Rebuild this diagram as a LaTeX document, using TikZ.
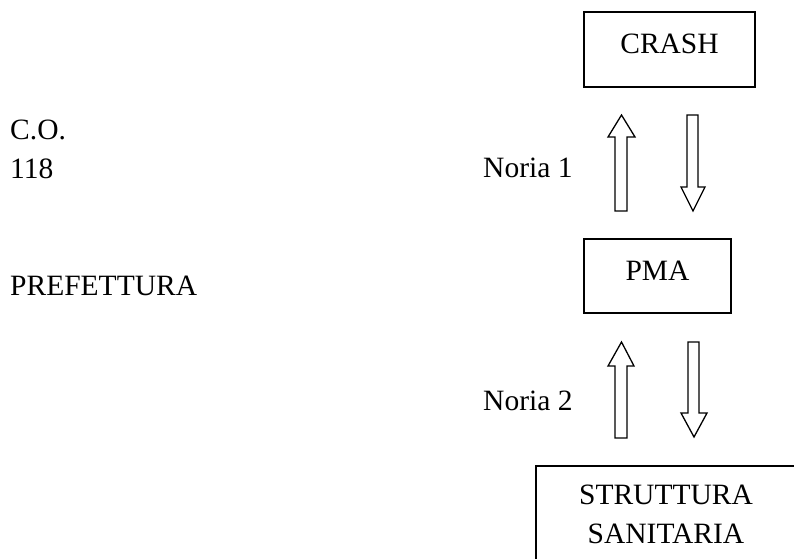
\documentclass[tikz,border=0pt]{standalone}
\usepackage{fontspec}
\setmainfont{Liberation Serif}

\begin{document}
\begin{tikzpicture}[x=1pt,y=-1pt,
    txt/.style={inner sep=0pt,font=\fontsize{29.5}{38}\selectfont},
    box/.style={draw,line width=2.2pt,inner sep=0pt},
    blockarrow/.style={draw,line width=1.3pt,line join=miter}]
  \useasboundingbox (0,0) rectangle (794,558);

  % boxes
  \node[box,minimum width=171pt,minimum height=75pt] (crash) at (669.5,49.5) {};
  \node[txt,anchor=base] (crashtxt) at (669.5,53) {CRASH};
  \node[box,minimum width=147pt,minimum height=74pt] (pma) at (657.5,276) {};
  \node[txt,anchor=base] (pmatxt) at (657.5,280) {PMA};
  \draw[line width=2.2pt] (795,466) -- (536,466) -- (536,559);
  \node[txt,anchor=base] (strutt) at (666,504) {STRUTTURA};
  \node[txt,anchor=base] (sanit) at (666,543) {SANITARIA};

  % left texts
  \node[txt,anchor=base west] (co) at (10,139) {C.O.};
  \node[txt,anchor=base west] (n118) at (10,178) {118};
  \node[txt,anchor=base west] (pref) at (10,295) {PREFETTURA};
  \node[txt,anchor=base west] (noria1) at (483,177) {Noria 1};
  \node[txt,anchor=base west] (noria2) at (483,410) {Noria 2};

  % noria 1
  \draw[blockarrow]
    (615,211) -- (615,137) -- (608,137) -- (621.5,115) -- (635,137)
    -- (627,137) -- (627,211) -- cycle;
  \draw[blockarrow]
    (687,115) -- (698,115) -- (698,187) -- (705,187) -- (693,211)
    -- (681,187) -- (687,187) -- cycle;
  % noria 2
  \draw[blockarrow]
    (615,438) -- (615,366) -- (608,366) -- (621.5,342) -- (634,366)
    -- (627,366) -- (627,438) -- cycle;
  \draw[blockarrow]
    (688,342) -- (699,342) -- (699,413) -- (707,413) -- (694,437)
    -- (681,413) -- (688,413) -- cycle;
\end{tikzpicture}
\end{document}
